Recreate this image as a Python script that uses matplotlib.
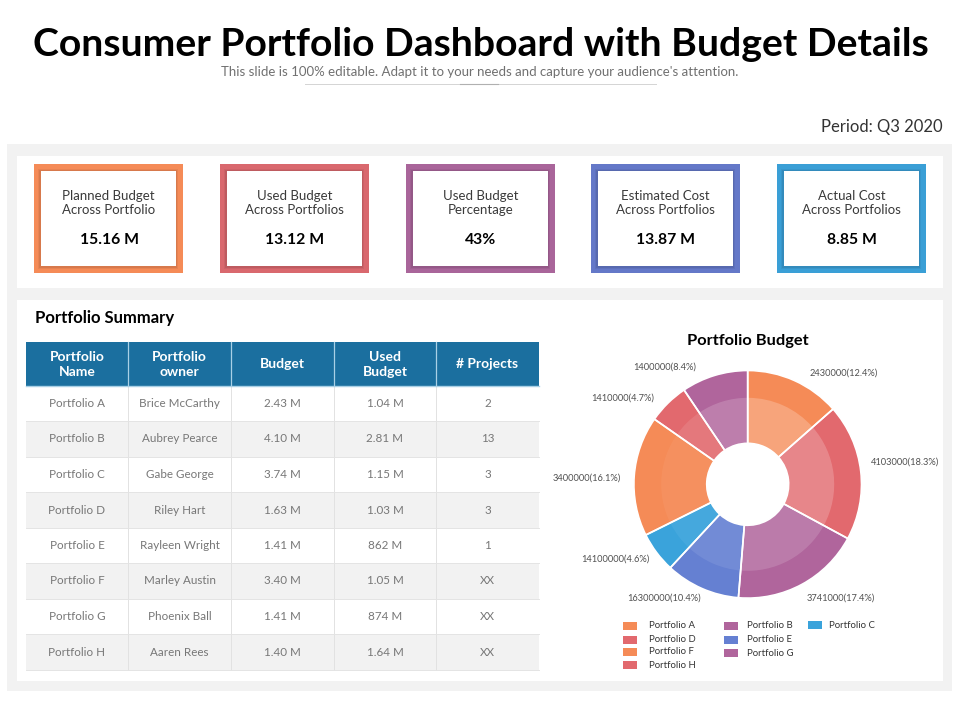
import matplotlib
matplotlib.use("Agg")
import matplotlib.pyplot as plt
from matplotlib.patches import Rectangle

plt.rcParams['font.family'] = ['Lato', 'DejaVu Sans']

# ---------- data ----------
title = "Consumer Portfolio Dashboard with Budget Details"
subtitle = "This slide is 100% editable. Adapt it to your needs and capture your audience's attention."
period = "Period: Q3 2020"

kpi_titles = ["Planned Budget\nAcross Portfolio", "Used Budget\nAcross Portfolios", "Used Budget\nPercentage",
              "Estimated Cost\nAcross Portfolios", "Actual Cost\nAcross Portfolios"]
kpi_values = ["15.16 M", "13.12 M", "43%", "13.87 M", "8.85 M"]
kpi_colors = ["#F58B57", "#D9686E", "#A9659A", "#6478C8", "#3A9FD6"]

table_header = ["Portfolio\nName", "Portfolio\nowner", "Budget", "Used\nBudget", "# Projects"]
names = ["Portfolio A", "Portfolio B", "Portfolio C", "Portfolio D", "Portfolio E", "Portfolio F", "Portfolio G", "Portfolio H"]
owners = ["Brice McCarthy", "Aubrey Pearce", "Gabe George", "Riley Hart", "Rayleen Wright", "Marley Austin", "Phoenix Ball", "Aaren Rees"]
budgets = ["2.43 M", "4.10 M", "3.74 M", "1.63 M", "1.41 M", "3.40 M", "1.41 M", "1.40 M"]
used = ["1.04 M", "2.81 M", "1.15 M", "1.03 M", "862 M", "1.05 M", "874 M", "1.64 M"]
projects = ["2", "13", "3", "3", "1", "XX", "XX", "XX"]

# slice shares, clockwise from 12 o'clock
slice_shares = [13.5, 19.4, 18.4, 10.6, 5.75, 17.05, 5.85, 9.45]
slice_colors = ["#F58B57", "#E2696E", "#B0659C", "#6580D2", "#3AA3DB", "#F58B57", "#E2696E", "#B0659C"]
slice_glow = [0.22, 0.20, 0.15, 0.09, 0.06, 0.05, 0.10, 0.17]
slice_labels = ["2430000(12.4%)", "4103000(18.3%)", "3741000(17.4%)", "16300000(10.4%)",
                "14100000(4.6%)", "3400000(16.1%)", "1410000(4.7%)", "1400000(8.4%)"]
legend_colors = ["#F58B57", "#B0659C", "#3AA3DB", "#E2696E", "#6580D2", "#F58B57", "#B0659C", "#E2696E"]
legend_labels = ["Portfolio A", "Portfolio B", "Portfolio C", "Portfolio D", "Portfolio E", "Portfolio F", "Portfolio G", "Portfolio H"]

# ---------- layout (pixels) ----------
W, H = 960, 720
card_x = [34, 220, 406, 591, 777]
card_w = 149
col_edges = [26, 128, 231, 334, 436, 539]
row_edges = [386, 421, 457, 492, 528, 563, 599, 634, 670]
label_xy = [(844, 373), (905, 462), (841, 598), (664, 598),
            (615, 559), (587, 478), (623, 398), (665, 367)]
legend_xy = [(623, 625.5), (724, 625.5), (808, 625), (623, 639.5), (724, 639.5),
             (623, 651.5), (724, 652.5), (623, 664.5)]
legend_text_x = {623: 649, 724: 747, 808: 829}
cx, cy, R = 747.7, 484.3, 113.8

fig = plt.figure(figsize=(9.6, 7.2), dpi=100, facecolor="white")
bg = fig.add_axes([0, 0, 1, 1])
bg.set_xlim(0, W)
bg.set_ylim(H, 0)
bg.axis("off")


def rect(x0, y0, x1, y1, color, z=1, **kw):
    bg.add_patch(Rectangle((x0, y0), x1 - x0, y1 - y0, facecolor=color, edgecolor="none", zorder=z, **kw))


def text(x, y, s, size, color="#444444", weight="normal", ha="center", va="center", **kw):
    bg.text(x, y, s, fontsize=size, color=color, fontweight=weight, ha=ha, va=va, zorder=10, **kw)


# header
text(481, 44, title, 28.2, "black", "bold")
text(480, 72, subtitle, 9.5, "#707070")
bg.plot([305, 656], [84, 84], color="#d4d4d4", lw=0.7, zorder=2)
bg.plot([460, 498], [84, 84], color="#b0b0b0", lw=0.8, zorder=3)
text(943, 127, period, 12, "#333333", ha="right")

# panels
rect(7, 144, 952, 691, "#F2F2F2", 0)
rect(17, 156, 943, 288, "white", 1)
rect(17, 300, 943, 681, "white", 1)

# KPI cards
for x, t, v, c in zip(card_x, kpi_titles, kpi_values, kpi_colors):
    rect(x, 164, x + card_w, 273, c, 2)
    rect(x + 4, 169, x + card_w - 5, 269, "#000000", 3, alpha=0.05)
    rect(x + 5, 170, x + card_w - 6, 268, "#000000", 3, alpha=0.07)
    rect(x + 6.5, 171, x + card_w - 7, 266, "white", 4)
    text(x + card_w / 2, 203, t, 9.5, "#3a3a3a", linespacing=1.15)
    text(x + card_w / 2 + 0.5, 239.5, v, 11.3, "black", "bold")

# table
text(35, 318.5, "Portfolio Summary", 12, "black", "bold", ha="left")
rect(col_edges[0], 342, col_edges[-1], 386, "#1B6F9F", 2)
for i, h in enumerate(table_header):
    text((col_edges[i] + col_edges[i + 1]) / 2, 364.5, h, 10, "white", "bold", linespacing=1.3)
for r in range(len(names)):
    if r % 2 == 1:
        rect(col_edges[0], row_edges[r], col_edges[-1], row_edges[r + 1], "#F2F2F2", 2)
    for c, col in enumerate([names, owners, budgets, used, projects]):
        text((col_edges[c] + col_edges[c + 1]) / 2, (row_edges[r] + row_edges[r + 1]) / 2, col[r], 8.4, "#777777")
for x in col_edges[1:-1]:
    bg.plot([x, x], [342, 386], color="#A9D0E6", lw=0.9, zorder=3)
    bg.plot([x, x], [386, row_edges[-1]], color="#E2E2E2", lw=0.7, zorder=3)
bg.plot([col_edges[0], col_edges[-1]], [386, 386], color="#A9D0E6", lw=1, zorder=3)
for y in row_edges[1:]:
    bg.plot([col_edges[0], col_edges[-1]], [y, y], color="#E4E4E4", lw=0.7, zorder=3)

# donut
text(747.5, 340.5, "Portfolio Budget", 11.8, "black", "bold")
m = 1.1
pie_ax = fig.add_axes([(cx - m * R) / W, 1 - (cy + m * R) / H, 2 * m * R / W, 2 * m * R / H])
pie_ax.set_facecolor("none")
pie_ax.pie(slice_shares, colors=slice_colors, startangle=90, counterclock=False, radius=1.0,
           wedgeprops=dict(width=0.64, edgecolor="none"))
pie_ax.pie(slice_shares, colors=[(1, 1, 1, a) for a in slice_glow], startangle=90, counterclock=False, radius=0.76,
           wedgeprops=dict(width=0.40, edgecolor="none"))
pie_ax.pie(slice_shares, colors=["none"] * len(slice_shares), startangle=90, counterclock=False, radius=1.0,
           wedgeprops=dict(width=0.64, edgecolor="white", linewidth=1.2))
pie_ax.set_xlim(-m, m)
pie_ax.set_ylim(-m, m)

for (x, y), s in zip(label_xy, slice_labels):
    text(x, y, s, 6.7, "#505050")

# legend
for (x, y), c, s in zip(legend_xy, legend_colors, legend_labels):
    rect(x, y - 4, x + 14, y + 4, c, 3)
    text(legend_text_x[x], y + 0.5, s, 6.9, "#333333", ha="left")

fig.savefig("out.png", dpi=100)
